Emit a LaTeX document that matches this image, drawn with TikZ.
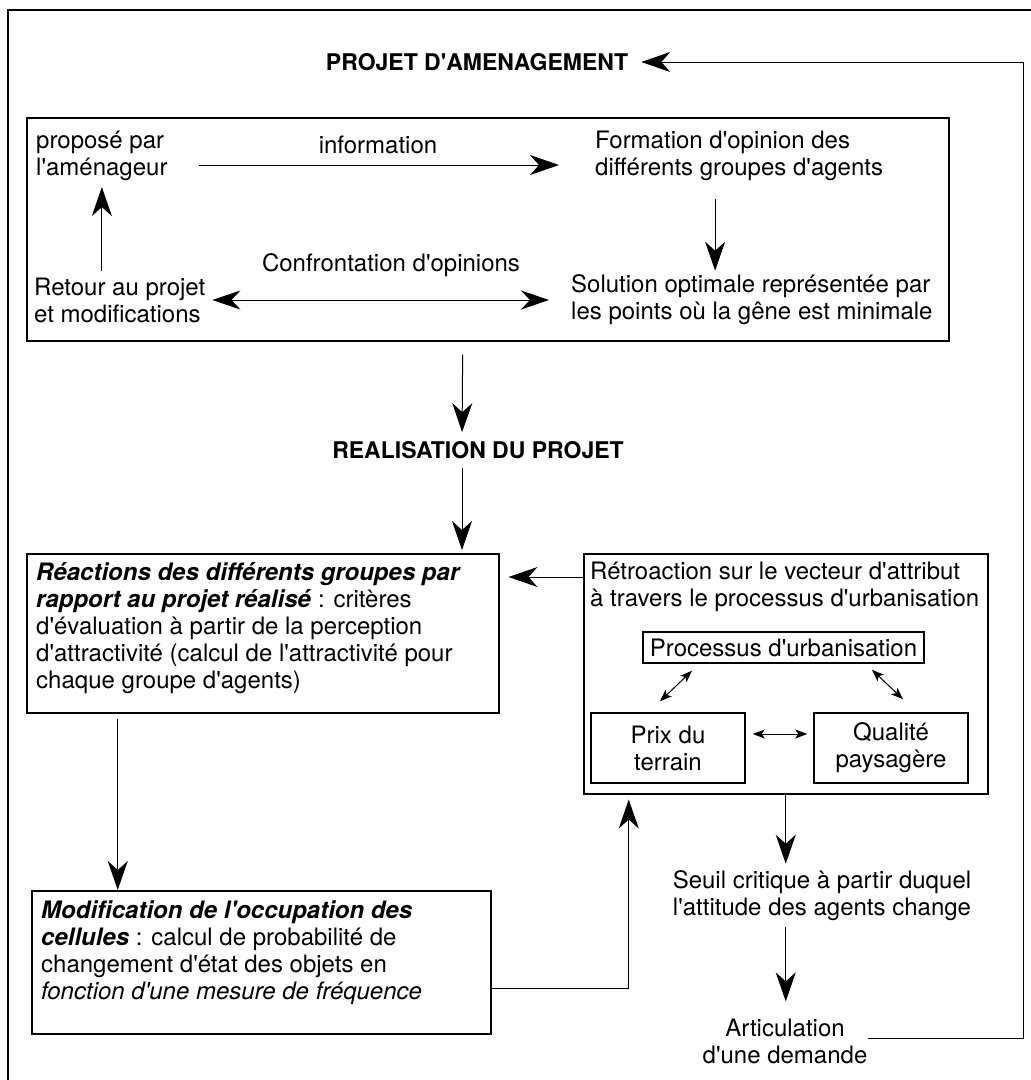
\documentclass[tikz,border=0pt]{standalone}
\usepackage{fontspec}
\setmainfont{TeX Gyre Heros}[Ligatures=TeXOff]
\usetikzlibrary{arrows.meta,positioning,calc}

\newcommand{\bodysize}{\fontsize{24}{27}\selectfont}
\newcommand{\titlesize}{\fontsize{23}{27}\selectfont\bfseries}
\newcommand{\bi}[1]{\textbf{\textit{#1}}}

\tikzset{
  box/.style={draw,line width=1.5pt,inner sep=0pt},
  txt/.style={inner sep=0pt,align=left,font=\bodysize},
  ctxt/.style={inner sep=0pt,align=center,font=\bodysize},
  ttl/.style={inner sep=0pt,font=\titlesize},
  arr/.style={line width=1pt,-{Stealth[length=29pt,width=20pt,inset=9pt]}},
  darr/.style={line width=1pt,{Stealth[length=28pt,width=19pt,inset=9pt]}-{Stealth[length=28pt,width=19pt,inset=9pt]}},
  sarr/.style={line width=1pt,{Stealth[length=12pt,width=9pt,inset=3pt]}-{Stealth[length=12pt,width=9pt,inset=3pt]}},
}

\begin{document}
\begin{tikzpicture}[x=1pt,y=-1pt]
\useasboundingbox (0,0) rectangle (1031,1080);
% cadre
\draw[line width=1.1pt] (1031,10) -- (8,10) -- (8,1080);

\node[ttl] (proj) at (477,62) {PROJET D'AMENAGEMENT};

% boite du haut
\node[box,anchor=north west,minimum width=922pt,minimum height=223pt] (haut) at (26,117) {};
\node[txt,anchor=west] (prop) at (36,156) {proposé par\\l'aménageur};
\node[txt,anchor=west] (form) at (595,156) {Formation d'opinion des\\différents groupes d'agents};
\node[txt,anchor=west] (ret) at (34,300) {Retour au projet\\et modifications};
\node[txt,anchor=west] (sol) at (571,300) {Solution optimale représentée par\\les points où la gêne est minimale};
\node[txt] (info) at (378,145) {information};
\node[txt] (conf) at (391,265) {Confrontation d'opinions};

\draw[arr] ([shift={(31,9)}]prop.east) -- ([shift={(-36,9)}]form.west);
\draw[arr,shorten <=18pt,shorten >=4pt] ([xshift=-24pt]form.south) -- ([xshift=-24pt]form.south |- sol.north);
\draw[darr,shorten <=7pt,shorten >=22pt] (ret) -- (sol);
\draw[arr,shorten <=6pt,shorten >=6pt] (prop.south |- ret.north) -- (prop.south);

% realisation
\node[ttl] (real) at (478,450) {REALISATION DU PROJET};
\draw[arr,shorten <=13pt,shorten >=9pt] ([xshift=-25pt]haut.south) -- ([xshift=-16pt]real.north);

% reactions
\node[box,anchor=north west,minimum width=472pt,minimum height=159pt] (reac) at (26,553) {};
\node[txt,anchor=north west] (reactxt) at (36,562) {\bi{Réactions des différents groupes par}\\
  \bi{rapport au projet réalisé} : critères\\
  d'évaluation à partir de la perception\\
  d'attractivité (calcul de l'attractivité pour\\
  chaque groupe d'agents)};
\draw[arr,shorten <=9pt,shorten >=3pt] ([xshift=-16pt]real.south) -- ([xshift=-16pt]real.south |- reac.north);

% retroaction
\node[box,anchor=north west,minimum width=404pt,minimum height=240pt] (retro) at (583,553) {};
\node[txt,anchor=north west] (retrotxt) at (590,562) {Rétroaction sur le vecteur d'attribut\\à travers le processus d'urbanisation};
\node[box,font=\bodysize,minimum width=281pt,minimum height=31pt] (proc) at (783.5,647.5) {Processus d'urbanisation};
\node[box,align=center,font=\bodysize,minimum width=154pt,minimum height=70pt] (prix) at (668,748) {Prix du\\terrain};
\node[box,align=center,font=\bodysize,minimum width=154pt,minimum height=70pt] (qual) at (891,748) {Qualité\\paysagère};
\draw[sarr,shorten <=7pt,shorten >=6pt] ([shift={(0,-14)}]prix.east) -- ([shift={(0,-14)}]qual.west);
\draw[sarr] ([shift={(-8,-11)}]prix.north) -- ([shift={(-91.5,7)}]proc.south);
\draw[sarr] ([shift={(88.5,6)}]proc.south) -- ([shift={(12,-13)}]qual.north);
\draw[arr,shorten >=9pt] ([shift={(0,24)}]retro.north west) -- ([shift={(0,24)}]reac.north east);

% modification
\node[box,anchor=north west,minimum width=459pt,minimum height=143pt] (modif) at (31,890) {};
\node[txt,anchor=north west] (modiftxt) at (41,901) {\bi{Modification de l'occupation des}\\
  \bi{cellules} : calcul de probabilité de\\
  changement d'état des objets en\\
  \textit{fonction d'une mesure de fréquence}};
\draw[arr,shorten <=5pt] ([xshift=-145pt]reac.south) -- ([xshift=-145pt]reac.south |- modif.north);
\draw[arr,shorten >=5pt] ([shift={(0,26.5)}]modif.east) -| ([xshift=-157pt]retro.south);

% seuil et demande
\node[ctxt] (seuil) at (822,896) {Seuil critique à partir duquel\\l'attitude des agents change};
\node[ctxt] (artic) at (785,1041) {Articulation\\d'une demande};
\draw[arr,shorten >=7pt] (retro.south) -- (retro.south |- seuil.north);
\draw[arr,shorten <=6pt,shorten >=17pt] (seuil.south -| retro.south) -- (retro.south |- artic.north);

% retour vers le projet
\coordinate (retour) at (1023,62);
\draw[arr,shorten >=13pt] ([shift={(0,-3)}]artic.east) -| (retour) -- (proj.east);
\end{tikzpicture}
\end{document}
